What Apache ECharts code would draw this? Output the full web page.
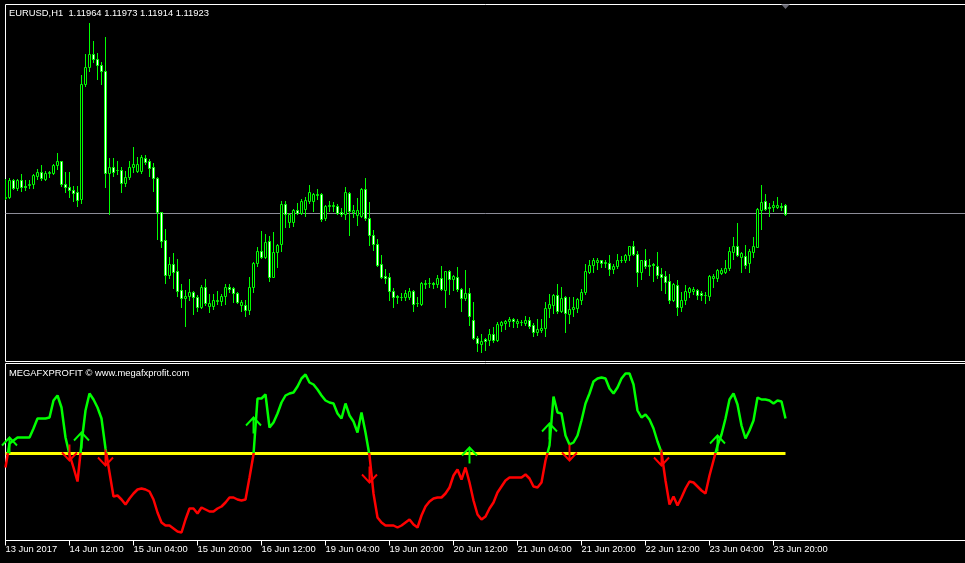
<!DOCTYPE html>
<html>
<head>
<meta charset="utf-8">
<script src="https://cdn.jsdelivr.net/npm/echarts@6/dist/echarts.min.js"></script>
<style>
html,body{margin:0;padding:0;background:#000;}
#chart{width:965px;height:563px;}
</style>
</head>
<body>
<div id="chart"></div>
<script>
// ---------- DATA (EURUSD H1) ----------
const tickLabels = ['13 Jun 2017','14 Jun 12:00','15 Jun 04:00','15 Jun 20:00','16 Jun 12:00','19 Jun 04:00','19 Jun 20:00','20 Jun 12:00','21 Jun 04:00','21 Jun 20:00','22 Jun 12:00','23 Jun 04:00','23 Jun 20:00'];
const barsPerTick = 16;
const slotCount = 242; // bars + empty chart-shift area on the right

const opens = [1.12000,1.12005,1.12093,1.12050,1.12088,1.12063,1.12067,1.12072,1.12110,1.12133,1.12097,1.12127,1.12127,1.12167,1.12183,1.12072,1.12055,1.12043,1.12030,1.11997,
1.12572,1.12655,1.12722,1.12697,1.12667,1.12633,1.12127,1.12155,1.12143,1.12142,1.12077,1.12105,1.12155,1.12138,1.12138,1.12202,1.12185,1.12158,1.12102,1.11930,
1.11792,1.11617,1.11672,1.11638,1.11543,1.11500,1.11510,1.11533,1.11505,1.11455,1.11555,1.11460,1.11460,1.11485,1.11485,1.11510,1.11558,1.11550,1.11527,1.11467,
1.11467,1.11443,1.11555,1.11677,1.11737,1.11708,1.11783,1.11608,1.11730,1.11772,1.11972,1.11880,1.11880,1.11942,1.11925,1.11947,1.11985,1.11985,1.12018,1.12022,
1.11900,1.11963,1.11963,1.11963,1.11930,1.11922,1.12025,1.11930,1.11918,1.11913,1.12047,1.11902,1.11817,1.11772,1.11672,1.11613,1.11605,1.11538,1.11510,1.11505,
1.11505,1.11508,1.11538,1.11475,1.11472,1.11572,1.11575,1.11578,1.11572,1.11602,1.11542,1.11635,1.11597,1.11608,1.11547,1.11502,1.11525,1.11392,1.11302,1.11272,
1.11297,1.11292,1.11322,1.11292,1.11368,1.11375,1.11383,1.11397,1.11375,1.11380,1.11377,1.11393,1.11367,1.11333,1.11343,1.11350,1.11450,1.11467,1.11517,1.11438,
1.11505,1.11422,1.11447,1.11450,1.11493,1.11530,1.11633,1.11667,1.11680,1.11688,1.11677,1.11677,1.11647,1.11663,1.11688,1.11688,1.11717,1.11760,1.11722,1.11633,
1.11688,1.11667,1.11670,1.11663,1.11622,1.11613,1.11588,1.11492,1.11568,1.11455,1.11492,1.11530,1.11535,1.11542,1.11525,1.11517,1.11513,1.11602,1.11602,1.11625,
1.11630,1.11652,1.11730,1.11763,1.11708,1.11713,1.11675,1.11730,1.11758,1.11942,1.11985,1.11958,1.11955,1.11958,1.11962,1.11964];

const highs = [1.12097,1.12102,1.12097,1.12097,1.12122,1.12093,1.12088,1.12122,1.12147,1.12168,1.12138,1.12138,1.12172,1.12225,1.12187,1.12133,1.12133,1.12063,1.12060,1.12617,
1.12718,1.12877,1.12783,1.12727,1.12680,1.12808,1.12202,1.12202,1.12183,1.12155,1.12138,1.12188,1.12255,1.12208,1.12213,1.12213,1.12193,1.12177,1.12105,1.11933,
1.11847,1.11705,1.11727,1.11697,1.11572,1.11543,1.11593,1.11537,1.11517,1.11567,1.11597,1.11522,1.11522,1.11538,1.11522,1.11572,1.11572,1.11555,1.11533,1.11493,
1.11488,1.11608,1.11683,1.11758,1.11838,1.11822,1.11813,1.11830,1.11772,1.11988,1.11985,1.11925,1.11947,1.11977,1.11997,1.12005,1.12068,1.12025,1.12047,1.12025,
1.11967,1.11985,1.11980,1.11972,1.11952,1.12058,1.12030,1.11968,1.12002,1.12052,1.12102,1.11980,1.11842,1.11797,1.11718,1.11647,1.11625,1.11552,1.11518,1.11525,
1.11542,1.11552,1.11542,1.11505,1.11580,1.11592,1.11602,1.11580,1.11618,1.11663,1.11638,1.11642,1.11618,1.11658,1.11552,1.11642,1.11552,1.11480,1.11313,1.11322,
1.11302,1.11347,1.11358,1.11380,1.11388,1.11392,1.11408,1.11400,1.11397,1.11393,1.11413,1.11405,1.11377,1.11397,1.11397,1.11483,1.11522,1.11522,1.11572,1.11555,
1.11510,1.11505,1.11505,1.11500,1.11547,1.11672,1.11693,1.11700,1.11700,1.11693,1.11693,1.11717,1.11672,1.11722,1.11713,1.11722,1.11763,1.11783,1.11738,1.11693,
1.11747,1.11697,1.11677,1.11730,1.11652,1.11638,1.11622,1.11575,1.11592,1.11530,1.11568,1.11558,1.11555,1.11547,1.11535,1.11530,1.11617,1.11622,1.11647,1.11652,
1.11692,1.11758,1.11805,1.11875,1.11730,1.11768,1.11747,1.11805,1.11952,1.12068,1.12022,1.11975,1.11985,1.12008,1.11975,1.11973];

const lows = [1.11993,1.12000,1.12047,1.12043,1.12038,1.12043,1.12050,1.12050,1.12097,1.12088,1.12088,1.12105,1.12122,1.12147,1.12063,1.12030,1.12005,1.11988,1.11960,1.11977,
1.12560,1.12638,1.12680,1.12597,1.12572,1.12055,1.11922,1.12113,1.12122,1.12033,1.12063,1.12097,1.12130,1.12133,1.12127,1.12172,1.12113,1.12038,1.11793,1.11755,
1.11575,1.11600,1.11550,1.11513,1.11455,1.11363,1.11493,1.11422,1.11435,1.11450,1.11467,1.11433,1.11447,1.11472,1.11467,1.11472,1.11530,1.11480,1.11477,1.11438,
1.11410,1.11422,1.11533,1.11660,1.11702,1.11702,1.11583,1.11605,1.11658,1.11738,1.11858,1.11855,1.11863,1.11922,1.11922,1.11908,1.11975,1.11935,1.11997,1.11885,
1.11892,1.11938,1.11938,1.11922,1.11913,1.11897,1.11818,1.11905,1.11868,1.11905,1.11892,1.11768,1.11742,1.11663,1.11602,1.11575,1.11488,1.11455,1.11475,1.11492,
1.11492,1.11497,1.11435,1.11463,1.11468,1.11552,1.11555,1.11552,1.11558,1.11542,1.11455,1.11522,1.11542,1.11535,1.11435,1.11488,1.11368,1.11297,1.11238,1.11230,
1.11242,1.11268,1.11280,1.11288,1.11338,1.11347,1.11363,1.11358,1.11358,1.11368,1.11367,1.11350,1.11313,1.11317,1.11330,1.11313,1.11405,1.11427,1.11427,1.11430,
1.11333,1.11377,1.11410,1.11430,1.11472,1.11522,1.11627,1.11633,1.11647,1.11655,1.11655,1.11617,1.11627,1.11650,1.11680,1.11683,1.11693,1.11717,1.11560,1.11593,
1.11650,1.11617,1.11588,1.11602,1.11542,1.11525,1.11475,1.11485,1.11418,1.11438,1.11472,1.11505,1.11522,1.11497,1.11492,1.11475,1.11488,1.11558,1.11588,1.11622,
1.11625,1.11642,1.11697,1.11713,1.11630,1.11652,1.11630,1.11708,1.11755,1.11847,1.11942,1.11913,1.11935,1.11952,1.11942,1.11914];

const closes = [1.12005,1.12093,1.12050,1.12088,1.12055,1.12055,1.12073,1.12117,1.12133,1.12100,1.12127,1.12130,1.12167,1.12187,1.12072,1.12055,1.12040,1.12027,1.11992,1.12572,
1.12655,1.12722,1.12697,1.12667,1.12633,1.12127,1.12155,1.12133,1.12140,1.12077,1.12105,1.12155,1.12172,1.12172,1.12203,1.12180,1.12150,1.12102,1.11930,1.11788,
1.11617,1.11672,1.11633,1.11538,1.11500,1.11513,1.11533,1.11505,1.11455,1.11555,1.11477,1.11477,1.11488,1.11488,1.11513,1.11555,1.11547,1.11525,1.11480,1.11483,
1.11443,1.11555,1.11677,1.11737,1.11705,1.11780,1.11608,1.11730,1.11768,1.11972,1.11922,1.11922,1.11942,1.11925,1.11985,1.11992,1.12030,1.12022,1.12022,1.11897,
1.11963,1.11967,1.11965,1.11925,1.11922,1.12030,1.11935,1.11942,1.11942,1.12047,1.11902,1.11817,1.11772,1.11668,1.11608,1.11600,1.11535,1.11505,1.11505,1.11508,
1.11525,1.11538,1.11472,1.11477,1.11575,1.11577,1.11577,1.11572,1.11602,1.11547,1.11635,1.11597,1.11613,1.11547,1.11502,1.11525,1.11412,1.11302,1.11275,1.11288,
1.11285,1.11322,1.11292,1.11372,1.11380,1.11385,1.11397,1.11383,1.11388,1.11382,1.11393,1.11363,1.11333,1.11347,1.11353,1.11450,1.11472,1.11517,1.11438,1.11500,
1.11427,1.11447,1.11458,1.11497,1.11533,1.11638,1.11667,1.11688,1.11688,1.11677,1.11678,1.11647,1.11663,1.11688,1.11692,1.11717,1.11760,1.11722,1.11633,1.11688,
1.11660,1.11663,1.11667,1.11618,1.11608,1.11580,1.11492,1.11572,1.11455,1.11492,1.11538,1.11550,1.11545,1.11518,1.11518,1.11515,1.11613,1.11613,1.11642,1.11642,
1.11652,1.11735,1.11763,1.11718,1.11725,1.11668,1.11738,1.11763,1.11947,1.11980,1.11947,1.11952,1.11968,1.11967,1.11958,1.11923];

const bidPrice = 1.11923;
const priceMin = 1.11183, priceMax = 1.12968;

// MEGAFXPROFIT oscillator (level = 0)
const osc = [-14,10,13,16,16,16,16,25,35,35,35,36,53,58,46,16,-1,-14,-28,10,
43,60,54,46,35,5,-19,-43,-42,-46,-51,-45,-40,-36,-35,-36,-38,-46,-59,-69,
-72,-72,-75,-78,-79,-66,-55,-55,-60,-54,-56,-58,-58,-55,-53,-49,-44,-44,-46,-47,
-46,-24,-1,55,55,59,26,31,40,51,58,60,61,67,75,79,71,69,64,58,
53,51,50,40,35,50,38,32,21,41,21,-2,-40,-64,-69,-72,-72,-72,-74,-72,
-69,-66,-71,-74,-62,-53,-48,-45,-44,-44,-40,-34,-22,-16,-26,-14,-29,-47,-61,-66,
-63,-55,-49,-39,-33,-27,-24,-24,-24,-24,-21,-25,-33,-34,-29,-7,8,57,41,40,
18,9,11,18,33,50,60,72,75,76,75,65,60,66,75,80,80,69,43,36,
39,34,25,12,1,-27,-51,-43,-52,-44,-35,-28,-29,-33,-37,-40,-22,-7,8,19,
35,54,60,49,28,15,23,33,56,54,54,53,50,53,52,35];
const oscLevel = 0;
const oscMin = -87, oscMax = 90;

const upArrowBars = [1,19,62,116,136,178];
const upArrowVals = [8,13,28,-2,22,10];
const downArrowBars = [16,25,91,141,164];
const downArrowVals = [1,-4,-21,1,-4];

// ---------- BUILD ----------
const cats = Array.from({length: slotCount}, (_, i) => String(i));
const candleData = opens.map((o, i) => [i, o, closes[i], lows[i], highs[i]]);
const isTick = (i) => i % barsPerTick === 0 && i / barsPerTick < tickLabels.length;
const FONT = "'Liberation Sans',Arial,sans-serif";
const FS = 9.4;
const LIME = '#00ff00';

const upPath = 'path://M7,16 L7,0 M0,8 L7,0 L14,8';
const downPath = 'path://M7,0 L7,16 M0,8 L7,16 L14,8';

// MT4-style candle: lime wick + 3px body (black = bull, white = bear)
function renderCandle(params, api) {
  const i = api.value(0);
  const o = api.value(1), c = api.value(2), l = api.value(3), h = api.value(4);
  const pO = api.coord([i, o]), pC = api.coord([i, c]);
  const pL = api.coord([i, l]), pH = api.coord([i, h]);
  const xc = Math.floor(pO[0]) + 0.5;
  const yTop = Math.round(Math.min(pO[1], pC[1])) + 0.5;
  const yBot = Math.round(Math.max(pO[1], pC[1])) + 0.5;
  const bull = c >= o;
  return {
    type: 'group',
    children: [
      {type: 'line', shape: {x1: xc, y1: Math.round(pH[1]), x2: xc, y2: Math.round(pL[1]) + 1},
       style: {stroke: LIME, lineWidth: 1}},
      {type: 'rect', shape: {x: xc - 1, y: yTop, width: 2, height: Math.max(yBot - yTop, 0)},
       style: {fill: bull ? '#000000' : '#ffffff', stroke: LIME, lineWidth: 1}}
    ]
  };
}

const chart = echarts.init(document.getElementById('chart'), null, {renderer: 'canvas'});
chart.setOption({
  backgroundColor: '#000',
  animation: false,
  title: [
    {text: 'EURUSD,H1  1.11964 1.11973 1.11914 1.11923', left: 4, top: 4,
     textStyle: {color: '#fff', fontSize: FS, fontWeight: 'normal', fontFamily: FONT}},
    {text: 'MEGAFXPROFIT © www.megafxprofit.com', left: 4, top: 364,
     textStyle: {color: '#fff', fontSize: FS, fontWeight: 'normal', fontFamily: FONT}}
  ],
  grid: [
    {left: 5.5, top: 4.5, width: 964, height: 357, outerBoundsMode: 'none', containLabel: false,
     show: true, borderColor: '#fff', borderWidth: 1, backgroundColor: '#000'},
    {left: 5.5, top: 363.5, width: 964, height: 177, outerBoundsMode: 'none', containLabel: false,
     show: true, borderColor: '#fff', borderWidth: 1, backgroundColor: '#000'}
  ],
  xAxis: [
    {type: 'category', gridIndex: 0, data: cats, boundaryGap: false,
     axisLine: {show: false}, axisTick: {show: false}, axisLabel: {show: false}, splitLine: {show: false}},
    {type: 'category', gridIndex: 1, data: cats, boundaryGap: false,
     axisLine: {show: true, onZero: false, lineStyle: {color: '#fff', width: 1}},
     axisTick: {show: true, interval: (i) => isTick(i), length: 5, lineStyle: {color: '#fff', width: 1}},
     axisLabel: {show: true, interval: (i) => isTick(i), color: '#fff', fontSize: FS, fontFamily: FONT,
       align: 'left', margin: 4,
       formatter: (v, i) => (isTick(i) ? tickLabels[i / barsPerTick] : '')},
     splitLine: {show: false}}
  ],
  yAxis: [
    {type: 'value', gridIndex: 0, min: priceMin, max: priceMax, show: false, splitLine: {show: false}},
    {type: 'value', gridIndex: 1, min: oscMin, max: oscMax, show: false, splitLine: {show: false}}
  ],
  visualMap: [{
    type: 'piecewise', show: false, seriesIndex: 2, dimension: 1,
    pieces: [{gte: oscLevel, lte: oscMax, color: '#00ff00'}, {gte: oscMin, lt: oscLevel, color: '#ff0000'}]
  }],
  series: [
    {type: 'line', name: 'bid', xAxisIndex: 0, yAxisIndex: 0, z: 1, silent: true,
     data: [['0', bidPrice], [String(slotCount - 1), bidPrice]], symbol: 'none',
     lineStyle: {color: '#8c8c98', width: 1}},
    {type: 'custom', name: 'EURUSD,H1', xAxisIndex: 0, yAxisIndex: 0, z: 2, clip: true,
     data: candleData, encode: {x: 0, y: [1, 2, 3, 4]}, renderItem: renderCandle},
    {type: 'line', name: 'MEGAFXPROFIT', xAxisIndex: 1, yAxisIndex: 1, data: osc, showSymbol: false, symbol: 'none',
     lineStyle: {width: 2.5}, z: 3},
    {type: 'line', name: 'level', xAxisIndex: 1, yAxisIndex: 1, z: 2, silent: true, symbol: 'none',
     data: [['0', oscLevel], [String(osc.length - 1), oscLevel]],
     lineStyle: {color: '#ffff00', width: 3}},
    {type: 'scatter', name: 'up', xAxisIndex: 1, yAxisIndex: 1, z: 4,
     data: upArrowBars.map((b, k) => [String(b), upArrowVals[k]]),
     symbol: upPath, symbolSize: [15, 16],
     itemStyle: {color: 'rgba(0,0,0,0)', borderColor: '#00ff00', borderWidth: 2, opacity: 1}},
    {type: 'scatter', name: 'down', xAxisIndex: 1, yAxisIndex: 1, z: 4,
     data: downArrowBars.map((b, k) => [String(b), downArrowVals[k]]),
     symbol: downPath, symbolSize: [15, 16],
     itemStyle: {color: 'rgba(0,0,0,0)', borderColor: '#ff0000', borderWidth: 2, opacity: 1}},
    {type: 'scatter', name: 'shift', xAxisIndex: 0, yAxisIndex: 0, z: 5, silent: true,
     data: [[String(opens.length - 1), priceMax]], symbol: 'triangle', symbolRotate: 180,
     symbolSize: [9, 5], symbolOffset: [0, 2], itemStyle: {color: '#7f7f8c'}}
  ]
});
</script>
</body>
</html>
